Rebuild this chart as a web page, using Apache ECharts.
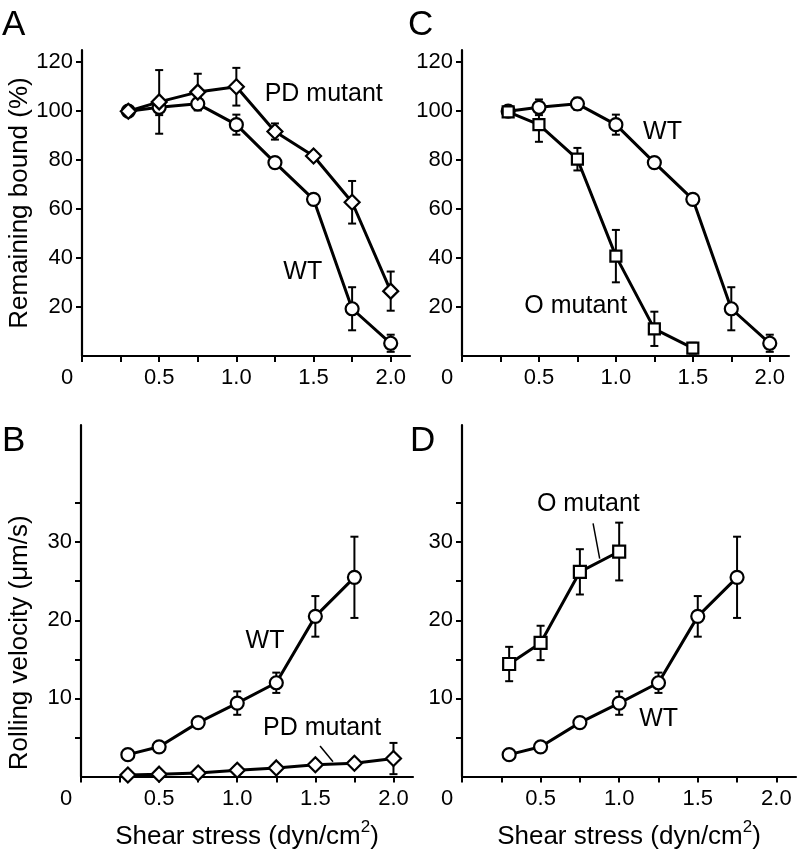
<!DOCTYPE html>
<html>
<head>
<meta charset="utf-8">
<script src="https://cdn.jsdelivr.net/npm/echarts@6/dist/echarts.min.js"></script>
<style>
html,body{margin:0;padding:0;background:#fff;}
#c{width:799px;height:851px;}
</style>
</head>
<body>
<div id="c"></div>
<script>
// ---- data ----
const xsAll = [0.3, 0.5, 0.75, 1.0, 1.25, 1.5, 1.75, 2.0];
const xsO = [0.3, 0.5, 0.75, 1.0, 1.25, 1.5];
const xsVelWT = [0.3, 0.5, 0.75, 1.0, 1.25, 1.5, 1.75];
const xsVelO = [0.3, 0.5, 0.75, 1.0];

const boundWT = [100, 101.6, 103, 94.5, 79, 64, 19.3, 5.2];
const boundWTErr = [1, 3.2, 2.5, 4.1, 2, 1.5, 8.8, 3.5];
const boundPD = [100, 103.8, 107.8, 110, 91.7, 81.7, 62.8, 26.5];
const boundPDErr = [1, 13, 7.5, 7.7, 3.3, 1, 8.7, 8];
const boundO = [99.7, 94.5, 80.4, 40.8, 11.1, 3.2];
const boundOErr = [1, 7, 4.6, 10.7, 7, 2.2];

const velWT = [2.8, 3.8, 6.9, 9.4, 12.0, 20.5, 25.5];
const velWTErr = [0, 0.3, 0.5, 1.5, 1.3, 2.6, 5.2];
const velPD = [0.2, 0.3, 0.45, 0.8, 1.1, 1.5, 1.7, 2.3];
const velPDErr = [0, 0, 0, 0, 0, 0, 0, 2];
const velO = [14.4, 17.1, 26.2, 28.8];
const velOErr = [2.2, 2.2, 2.9, 3.7];

const xTickVals = [0, 0.25, 0.5, 0.75, 1.0, 1.25, 1.5, 1.75, 2.0];
const xLabelVals = [0, 0.5, 1.0, 1.5, 2.0];
const boundTickVals = [20, 40, 60, 80, 100, 120];
const velTickVals = [5, 10, 15, 20, 25, 30, 35];
const velLabelVals = [10, 20, 30];

// annotations in data coordinates: [gridIndex, x, y, text]
const annotations = [
  [0, 1.566, 106.8, 'PD mutant'],
  [0, 1.43, 34.2, 'WT'],
  [1, 1.303, 91.3, 'WT'],
  [1, 0.739, 20.3, 'O mutant'],
  [2, 1.178, 17.3, 'WT'],
  [2, 1.543, 6.2, 'PD mutant'],
  [3, 0.804, 34.9, 'O mutant'],
  [3, 1.251, 7.4, 'WT']
];
const leaders = [
  [2, [1.530, 3.9], [1.613, 1.9]],
  [3, [0.834, 32.4], [0.876, 27.9]]
];

// ---- chart ----
const FONT = 'Liberation Sans, Arial, Helvetica, sans-serif';
const chart = echarts.init(document.getElementById('c'), null, {renderer: 'canvas'});

function pairs(xs, ys) { return xs.map((x, i) => [x, ys[i]]); }
function errData(xs, ys, es) {
  const out = [];
  xs.forEach((x, i) => { if (es[i] > 0) out.push([x, ys[i] - es[i], ys[i] + es[i]]); });
  return out;
}

const xName = '{a|Shear stress (dyn/cm}{s|2}{a|)}';
const xNameStyle = {
  rich: {
    a: {fontSize: 26, color: '#000', fontFamily: FONT},
    s: {fontSize: 17, color: '#000', fontFamily: FONT, padding: [0, 0, 20, 0]}
  }
};

function xAxisCfg(gi, withName) {
  const c = {
    type: 'value', gridIndex: gi, min: 0, max: 2.125,
    axisLine: {show: true, onZero: false, lineStyle: {color: '#000', width: 2.2}},
    axisTick: {show: true, length: 6, customValues: xTickVals, lineStyle: {color: '#000', width: 2}},
    axisLabel: {
      show: true, customValues: xLabelVals, color: '#000', fontSize: 22, fontFamily: FONT, margin: 11,
      formatter: v => (v === 0 ? '{z|0}' : v.toFixed(1)),
      rich: {z: {fontSize: 22, color: '#000', fontFamily: FONT, padding: [0, 30, 0, 0]}}
    },
    splitLine: {show: false}
  };
  if (withName) {
    c.name = xName;
    c.nameLocation = 'middle';
    c.nameGap = 42;
    c.nameTextStyle = xNameStyle;
  }
  return c;
}

function yAxisCfg(gi, max, ticks, labels, name, gap, pad) {
  const c = {
    type: 'value', gridIndex: gi, min: 0, max: max,
    axisLine: {show: true, onZero: false, lineStyle: {color: '#000', width: 2.2}},
    axisTick: {show: true, length: 6, customValues: ticks, lineStyle: {color: '#000', width: 2}},
    axisLabel: {show: true, customValues: labels, color: '#000', fontSize: 22, fontFamily: FONT, margin: 9},
    splitLine: {show: false}
  };
  if (name) {
    c.name = name;
    c.nameLocation = 'middle';
    c.nameGap = gap;
    c.nameTextStyle = {fontSize: 26, color: '#000', fontFamily: FONT, padding: pad || 0};
  }
  return c;
}

function lineSeries(gi, data, symbol, size) {
  return {
    type: 'line', xAxisIndex: gi, yAxisIndex: gi, data: data,
    symbol: symbol, symbolSize: size, showSymbol: true, z: 3,
    lineStyle: {color: '#000', width: 3},
    itemStyle: {color: '#fff', borderColor: '#000', borderWidth: 2.2},
    emphasis: {disabled: true}
  };
}

function errRender(params, api) {
  const x = api.value(0), lo = api.value(1), hi = api.value(2);
  const a = api.coord([x, hi]);
  const b = api.coord([x, lo]);
  const w = 4;
  const st = {stroke: '#000', lineWidth: 2};
  return {
    type: 'group',
    children: [
      {type: 'line', shape: {x1: a[0], y1: a[1], x2: b[0], y2: b[1]}, style: st},
      {type: 'line', shape: {x1: a[0] - w, y1: a[1], x2: a[0] + w, y2: a[1]}, style: st},
      {type: 'line', shape: {x1: b[0] - w, y1: b[1], x2: b[0] + w, y2: b[1]}, style: st}
    ]
  };
}
function errSeries(gi, data) {
  return {
    type: 'custom', xAxisIndex: gi, yAxisIndex: gi, data: data, z: 1,
    renderItem: errRender, encode: {x: 0, y: [1, 2]}, silent: true
  };
}

const option = {
  backgroundColor: '#fff',
  animation: false,
  textStyle: {fontFamily: FONT},
  grid: [
    {left: 82, top: 50, width: 328, height: 306},
    {left: 462, top: 50, width: 327, height: 306},
    {left: 81, top: 425, width: 332, height: 353},
    {left: 462, top: 425, width: 334, height: 353}
  ],
  xAxis: [xAxisCfg(0, false), xAxisCfg(1, false), xAxisCfg(2, true), xAxisCfg(3, true)],
  yAxis: [
    yAxisCfg(0, 125, boundTickVals, boundTickVals, 'Remaining bound (%)', 49),
    yAxisCfg(1, 125, boundTickVals, boundTickVals, null),
    yAxisCfg(2, 45, velTickVals, velLabelVals, 'Rolling velocity (μm/s)', 48, [0, 84, 0, 0]),
    yAxisCfg(3, 45, velTickVals, velLabelVals, null)
  ],
  series: [
    errSeries(0, errData(xsAll, boundWT, boundWTErr)),
    errSeries(0, errData(xsAll, boundPD, boundPDErr)),
    lineSeries(0, pairs(xsAll, boundWT), 'circle', 13),
    lineSeries(0, pairs(xsAll, boundPD), 'diamond', 15),

    errSeries(1, errData(xsAll, boundWT, boundWTErr)),
    errSeries(1, errData(xsO, boundO, boundOErr)),
    lineSeries(1, pairs(xsAll, boundWT), 'circle', 13),
    lineSeries(1, pairs(xsO, boundO), 'rect', 11),

    errSeries(2, errData(xsVelWT, velWT, velWTErr)),
    errSeries(2, errData(xsAll, velPD, velPDErr)),
    lineSeries(2, pairs(xsVelWT, velWT), 'circle', 13),
    lineSeries(2, pairs(xsAll, velPD), 'diamond', 15),

    errSeries(3, errData(xsVelWT, velWT, velWTErr)),
    errSeries(3, errData(xsVelO, velO, velOErr)),
    lineSeries(3, pairs(xsVelWT, velWT), 'circle', 13),
    lineSeries(3, pairs(xsVelO, velO), 'rect', 12)
  ]
};
chart.setOption(option);

// panel letters and annotations
const graphics = [];
const letters = [['A', 2, 8], ['C', 408, 8], ['B', 2, 424], ['D', 410, 424]];
letters.forEach(([t, x, y]) => {
  graphics.push({type: 'text', left: x, top: y, style: {text: t, fontSize: 35, fill: '#000', fontFamily: FONT}});
});
annotations.forEach(([gi, x, y, t]) => {
  const p = chart.convertToPixel({gridIndex: gi}, [x, y]);
  graphics.push({type: 'text', x: p[0], y: p[1], style: {text: t, fontSize: 25, fill: '#000', fontFamily: FONT, align: 'center', verticalAlign: 'middle'}});
});
leaders.forEach(([gi, s, e]) => {
  const a = chart.convertToPixel({gridIndex: gi}, s);
  const b = chart.convertToPixel({gridIndex: gi}, e);
  graphics.push({type: 'line', shape: {x1: a[0], y1: a[1], x2: b[0], y2: b[1]}, style: {stroke: '#000', lineWidth: 1.5}});
});
chart.setOption({graphic: graphics});
</script>
</body>
</html>
